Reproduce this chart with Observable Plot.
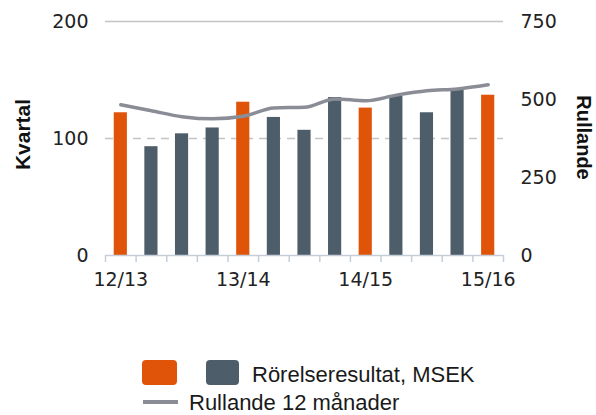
<!DOCTYPE html>
<html><head><meta charset="utf-8">
<script src="https://cdn.jsdelivr.net/npm/d3@7"></script>
<script src="https://cdn.jsdelivr.net/npm/@observablehq/plot@0.6"></script>
<style>
body{margin:0;background:#fff;}
#wrap{position:relative;width:596px;height:415px;overflow:hidden;background:#fff;}
#chart{position:absolute;left:0;top:0;}
.sw{position:absolute;border-radius:4px;}
.lt{position:absolute;font-family:"Liberation Sans",Arial,sans-serif;font-size:22px;line-height:22px;color:#1a1a1a;white-space:nowrap;}
.ln{position:absolute;height:4px;}
</style></head><body>
<div id="wrap"><div id="chart"></div><div id="legend"></div></div>
<script>
const quarters = ["Q1 12/13","Q2 12/13","Q3 12/13","Q4 12/13","Q1 13/14","Q2 13/14","Q3 13/14","Q4 13/14","Q1 14/15","Q2 14/15","Q3 14/15","Q4 14/15","Q1 15/16"];
const kvartal = [122, 93, 104, 109, 131, 118, 107, 135, 126, 136, 122, 142, 137];
const rullande = [483, 464, 445, 438, 446, 473, 475, 502, 496, 514, 528, 534, 547];
const leftTicks = [0, 100, 200];
const rightTicks = [0, 250, 500, 750];
const seriesNames = ["Rörelseresultat, MSEK", "Rullande 12 månader"];
const colors = {q1: "#e0540a", other: "#4d5e6a", line: "#8a8d96"};

const ratio = 200 / 750;
const data = quarters.map((q, i) => ({q, i: i + 1, k: kvartal[i], r: rullande[i] * ratio, first: q.startsWith("Q1")}));
const labelTicks = data.filter(d => d.first).map(d => d.i);

const plot = Plot.plot({
  width: 596, height: 300,
  marginLeft: 105, marginRight: 93, marginTop: 21, marginBottom: 45,
  style: {fontFamily: "DejaVu Sans", fontSize: "19px", color: "#222", background: "#fff"},
  x: {type: "linear", domain: [0.5, quarters.length + 0.5], axis: null},
  y: {domain: [0, 200], axis: null},
  marks: [
    Plot.ruleY([200], {stroke: "#c4c4c4", strokeWidth: 1.5}),
    Plot.ruleY([100], {stroke: "#c4c4c4", strokeWidth: 1.5, strokeDasharray: "8,6"}),
    Plot.rectY(data, {x1: d => d.i - 0.215, x2: d => d.i + 0.215, y1: 0, y2: "k", fill: d => d.first ? colors.q1 : colors.other}),
    Plot.line(data, {x: "i", y: "r", stroke: colors.line, strokeWidth: 3.5, curve: "monotone-x", strokeLinejoin: "round"}),
    Plot.ruleY([0], {stroke: "#c5ced8", strokeWidth: 1.5}),
    Plot.axisX({ticks: d3.range(0.5, quarters.length + 1, 1), tickSize: 7, tickFormat: () => "", stroke: "#c5ced8", strokeWidth: 1.5, label: null}),
    Plot.axisX({ticks: labelTicks, tickSize: 0, tickPadding: 17, tickFormat: i => quarters[i - 1].slice(3), label: null}),
    Plot.axisY({anchor: "left", ticks: leftTicks, tickSize: 0, tickPadding: 17, label: null}),
    Plot.axisY({anchor: "right", ticks: rightTicks.map(v => v * ratio), tickSize: 0, tickPadding: 17, tickFormat: d => Math.round(d / ratio), label: null}),
    Plot.text(["Kvartal"], {frameAnchor: "left", textAnchor: "middle", dx: -82, dy: -4, rotate: -90, fontWeight: "bold", fontFamily: "Liberation Sans", fontSize: 21, fill: "#111"}),
    Plot.text(["Rullande"], {frameAnchor: "right", textAnchor: "middle", dx: 80, dy: -1, rotate: 90, fontWeight: "bold", fontFamily: "Liberation Sans", fontSize: 20, fill: "#111"})
  ]
});
document.getElementById("chart").appendChild(plot);

const lg = document.getElementById("legend");
lg.innerHTML = `
<div class="sw" style="left:142px;top:360px;width:35px;height:25px;background:${colors.q1}"></div>
<div class="sw" style="left:206px;top:360px;width:33px;height:25px;background:${colors.other}"></div>
<div class="lt" style="left:252px;top:364px">${seriesNames[0]}</div>
<div class="ln" style="left:143px;top:400px;width:35px;background:${colors.line}"></div>
<div class="lt" style="left:189px;top:392px">${seriesNames[1]}</div>`;
</script>
</body></html>
